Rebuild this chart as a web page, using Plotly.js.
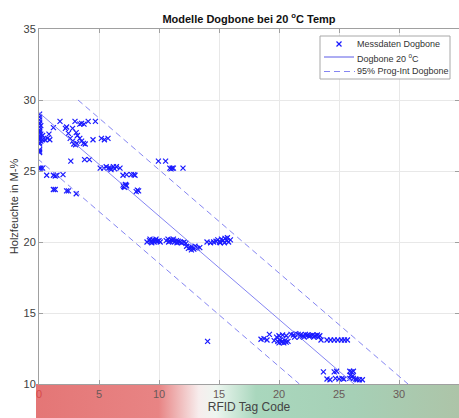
<!DOCTYPE html>
<html>
<head>
<meta charset="utf-8">
<script src="https://cdn.plot.ly/plotly-3.0.1.min.js"></script>
<style>html,body{margin:0;padding:0;background:#fff;overflow:hidden;}#chart{width:459px;height:418px;}</style>
</head>
<body>
<div id="chart"></div>
<script>
// Measured data (RFID tag code vs wood moisture)
const measX = [
  0.05,0.05,0.05,0.05,0.05,0.05,0.05,0.05,0.05,0.05,0.05,0.05,0.05,0.05,0.05,0.05,0.05,0.05,0.05,
  0.15,0.15,0.15,0.15,0.3,0.3,0.3,
  0.5,0.7,0.83,0.9,1.2,1.75,2.2,2.3,2.45,2.6,2.8,2.8,3.0,3.1,3.2,2.9,3.05,3.15,3.4,3.55,3.75,3.4,3.55,3.7,3.85,4.1,4.7,4.5,2.65,3.8,4.2,
  5.2,5.45,5.75,
  5.1,5.4,5.6,5.8,5.95,6.2,6.45,6.75,6.0,6.3,
  0.64,1.2,1.35,1.5,2.0,
  1.2,1.35,2.3,2.45,3.1,
  7.0,7.3,7.7,7.9,8.0,
  7.0,7.1,7.2,7.3,7.15,7.25,7.05,
  8.1,8.2,8.3,
  9.95,10.55,
  10.9,11.0,11.1,11.2,12.0,
  9.0,9.2,9.35,9.5,9.6,9.7,9.85,10.0,10.1,9.4,9.75,9.25,
  10.6,10.75,10.9,11.0,11.15,11.3,11.45,11.6,11.75,11.9,12.1,12.25,10.8,11.2,11.5,
  12.3,12.45,12.6,12.75,12.9,13.05,13.2,13.4,12.7,13.0,
  14.0,14.3,14.55,
  14.75,14.9,15.05,15.2,15.35,15.5,15.65,15.8,15.95,15.1,15.45,15.7,
  14.05,
  18.5,18.75,19.0,19.2,19.6,19.8,19.9,20.0,20.1,20.2,20.3,20.4,20.5,20.6,20.75,20.0,20.3,20.6,
  21.0,21.2,21.4,21.6,21.8,22.0,22.2,22.4,22.6,22.8,23.0,23.2,23.4,
  21.3,21.7,22.1,22.5,22.9,23.3,23.5,24.0,24.3,24.6,24.9,25.2,25.45,25.7,
  23.7,24.6,24.8,24.0,24.25,24.7,25.0,25.25,25.4,25.9,26.05,26.2,25.95,26.15,25.9,26.2,26.5,26.7,26.95,26.4
];
const measY = [
  29.0,28.8,28.6,28.4,28.3,28.1,27.9,27.8,27.7,27.5,27.4,27.3,27.2,27.0,26.9,26.5,26.4,26.3,25.2,
  28.2,27.6,27.1,25.2,27.5,27.2,25.2,
  27.2,27.3,27.6,27.2,28.05,28.5,28.0,28.1,27.65,27.3,27.1,28.0,28.5,27.7,27.5,26.9,26.85,26.95,28.3,28.35,28.3,27.3,27.1,26.95,26.9,28.5,28.5,27.2,25.7,25.8,25.8,
  27.3,27.2,27.3,
  25.2,25.2,25.3,25.2,25.2,25.3,25.3,25.2,25.1,25.15,
  24.7,24.7,24.65,24.7,24.75,
  23.7,23.7,23.6,23.6,23.4,
  24.7,24.75,24.75,24.75,24.7,
  24.0,23.9,24.05,23.95,23.85,24.0,23.9,
  23.55,23.65,23.6,
  25.7,25.7,
  25.2,25.15,25.2,25.2,25.2,
  20.0,20.1,20.05,20.15,20.0,20.1,20.05,20.1,20.0,19.95,20.2,20.2,
  20.1,20.2,20.05,20.15,20.1,20.0,20.1,20.05,20.0,19.95,20.0,19.9,20.0,20.2,19.95,
  19.7,19.55,19.6,19.65,19.5,19.6,19.55,19.6,19.45,19.7,
  20.0,19.95,20.0,
  20.05,20.15,20.0,20.2,20.1,20.25,20.1,20.0,20.15,19.95,19.95,20.3,
  13.0,
  13.15,13.2,13.1,13.5,13.05,13.3,13.0,12.9,13.1,12.95,13.0,12.9,13.05,12.95,13.0,13.4,13.45,13.4,
  13.5,13.45,13.55,13.5,13.45,13.4,13.5,13.45,13.4,13.45,13.4,13.45,13.4,
  13.3,13.3,13.3,13.35,13.3,13.3,13.1,13.1,13.1,13.1,13.1,13.1,13.1,13.1,
  10.85,10.85,10.9,10.35,10.3,10.4,10.35,10.4,10.35,10.9,10.85,10.9,10.6,10.55,10.4,10.4,10.3,10.3,10.3,10.35
];
// Model line and 95% prediction interval (endpoints at moisture 30 and 10)
const lineY = [30, 10];
const fitX = [-1.22, 26.25];
const upperX = [3.25, 30.75];
const lowerX = [-5.8, 21.7];
// Axis ticks
const xTickVals = [0, 5, 10, 15, 20, 25, 30, 35];
const xTickText = ['<span style="color:#d84a4a">0</span>', '5', '10', '15', '20', '25', '30', '35'];
const yTickVals = [10, 15, 20, 25, 30, 35];
// Legend labels
const legendNames = ['Messdaten Dogbone', 'Dogbone 20 <sup>o</sup>C', '95% Prog-Int Dogbone'];

// gradient band below the axis
function bandImage() {
  const c = document.createElement('canvas');
  c.width = 423; c.height = 34;
  const g = c.getContext('2d');
  const grad = g.createLinearGradient(0, 0, 423, 0);
  grad.addColorStop(0, '#e47676');
  grad.addColorStop(0.29, '#e88484');
  grad.addColorStop(0.385, '#f7eded');
  grad.addColorStop(0.425, '#edf6f0');
  grad.addColorStop(0.52, '#a9d7bd');
  grad.addColorStop(0.75, '#a6d0b6');
  grad.addColorStop(1, '#adc4a8');
  g.fillStyle = grad;
  g.fillRect(0, 0, 423, 34);
  return c.toDataURL('image/png');
}

const FONT = 'Liberation Sans, Arial, sans-serif';
const lineCol = '#8585f2';
const markCol = '#1a1aff';

const traces = [
  {x: measX, y: measY, type: 'scatter', mode: 'markers', name: legendNames[0],
   marker: {symbol: 'x-thin-open', size: 5, color: markCol, line: {color: markCol, width: 1.2}}},
  {x: fitX, y: lineY, type: 'scatter', mode: 'lines', name: legendNames[1],
   line: {color: lineCol, width: 1}},
  {x: upperX, y: lineY, type: 'scatter', mode: 'lines', name: legendNames[2],
   line: {color: lineCol, width: 1, dash: '6px,4px'}},
  {x: lowerX, y: lineY, type: 'scatter', mode: 'lines', name: legendNames[2],
   line: {color: lineCol, width: 1, dash: '6px,4px'}}
];

// legend drawn as a compact box (pixel -> paper helpers)
const PL = 39, PW = 420, PB = 384, PH = 355;
const px = v => (v - PL) / PW;
const py = v => (PB - v) / PH;
const rowY = [44, 58, 71];
const shapes = [
  {type: 'rect', xref: 'paper', yref: 'paper', x0: px(320), x1: px(450), y0: py(79), y1: py(36),
   line: {color: '#a8a8a8', width: 1}, fillcolor: '#ffffff', layer: 'above'},
  {type: 'line', xref: 'paper', yref: 'paper', x0: px(336.5), x1: px(341.5), y0: py(rowY[0] - 2.5), y1: py(rowY[0] + 2.5),
   line: {color: markCol, width: 1.2}, layer: 'above'},
  {type: 'line', xref: 'paper', yref: 'paper', x0: px(336.5), x1: px(341.5), y0: py(rowY[0] + 2.5), y1: py(rowY[0] - 2.5),
   line: {color: markCol, width: 1.2}, layer: 'above'},
  {type: 'line', xref: 'paper', yref: 'paper', x0: px(324), x1: px(354), y0: py(57), y1: py(57),
   line: {color: '#5a5ae6', width: 1}, layer: 'above'},
  {type: 'line', xref: 'paper', yref: 'paper', x0: px(324), x1: px(355), y0: py(71.5), y1: py(71.5),
   line: {color: lineCol, width: 1, dash: '6px,4px'}, layer: 'above'}
];
const annotations = legendNames.map((t, i) => ({
  text: t, xref: 'paper', yref: 'paper', x: px(355), y: py(rowY[i]), xanchor: 'left', yanchor: 'middle',
  showarrow: false, font: {family: FONT, size: 9, color: '#333'}
}));

const layout = {
  width: 459, height: 418,
  margin: {l: 39, r: 0, t: 29, b: 34, pad: 0, autoexpand: false},
  paper_bgcolor: '#ffffff', plot_bgcolor: '#ffffff',
  font: {family: FONT, size: 11, color: '#404040'},
  showlegend: false,
  title: {text: '<b>Modelle Dogbone bei 20 <sup>o</sup>C Temp</b>', font: {family: FONT, size: 11, color: '#111'},
          x: 0.5, xref: 'paper', y: 1 - 19/418, yref: 'container', yanchor: 'middle', automargin: false},
  xaxis: {range: [0, 35], tickvals: xTickVals, ticktext: xTickText, showgrid: true, gridcolor: '#e8e8e8',
          zeroline: false, showline: true, linecolor: '#a0a0a0', mirror: 'ticks', ticks: 'inside', ticklen: 4,
          tickcolor: '#a0a0a0', tickfont: {size: 11, color: '#6a5a5a'}, automargin: false,
          title: {text: 'RFID Tag Code', font: {size: 12, color: '#444'}, standoff: 3}},
  yaxis: {range: [10, 35], tickvals: yTickVals, showgrid: true, gridcolor: '#e8e8e8',
          zeroline: false, showline: true, linecolor: '#a0a0a0', mirror: 'ticks', ticks: 'inside', ticklen: 4,
          tickcolor: '#a0a0a0', tickfont: {size: 11, color: '#404040'}, automargin: false,
          title: {text: 'Holzfeuchte in M-%', font: {size: 11, color: '#333'}, standoff: 2}},
  shapes: shapes,
  annotations: annotations,
  images: [{source: bandImage(), xref: 'paper', yref: 'paper', x: -3/420, y: 0, sizex: 423/420, sizey: 34/355,
            xanchor: 'left', yanchor: 'top', sizing: 'stretch', layer: 'below'}]
};

Plotly.newPlot('chart', traces, layout, {displayModeBar: false, staticPlot: true});
</script>
</body>
</html>
